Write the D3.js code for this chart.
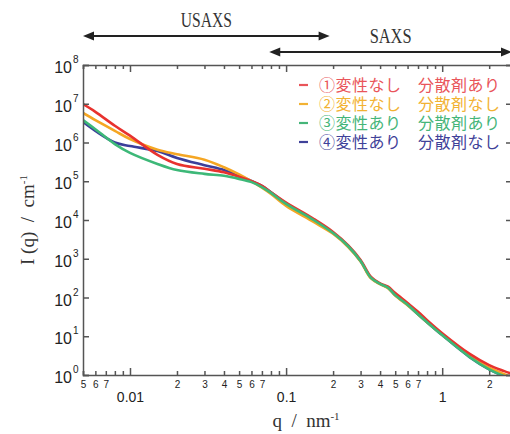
<!DOCTYPE html>
<meta charset="utf-8">
<style>
body { margin: 0; background: #fff; }
svg { display: block; }
.axis path, .axis line { stroke: #555; stroke-width: 1.5px; }
.axis text { font-family: "Liberation Sans", Arial, sans-serif; fill: #222; }
.serif { font-family: "Liberation Serif", "Times New Roman", serif; fill: #333; }
.legend text { font-family: "Noto Sans CJK JP", sans-serif; font-size: 16px; letter-spacing: 0.5px; }
</style>
<body>
<script src="https://d3js.org/d3.v7.min.js"></script>
<script>

// q (nm^-1) sample points and I(q) (cm^-1)
var qValues = [0.005, 0.006, 0.008, 0.01, 0.015, 0.02, 0.03, 0.04, 0.05, 0.06, 0.07, 0.08,
  0.1, 0.15, 0.2, 0.25, 0.3, 0.35, 0.4, 0.45, 0.5, 0.6, 0.7, 0.8, 1.0, 1.5, 2.0, 2.5, 2.8];

var red = [9.8e6, 6.2e6, 2.7e6, 1.5e6, 4.8e5, 2.8e5, 2.1e5, 1.7e5, 1.3e5, 1.0e5, 7.6e4, 5.2e4,
  2.8e4, 1.07e4, 4.9e3, 2.2e3, 930, 340, 230, 190, 130, 72, 43, 26, 12, 3.5, 1.8, 1.26, 1.07];
var orange = [5.8e6, 3.8e6, 2.0e6, 1.23e6, 6.5e5, 5.0e5, 3.6e5, 2.3e5, 1.5e5, 1.0e5, 6.8e4, 4.7e4,
  2.3e4, 8.9e3, 4.4e3, 2.0e3, 850, 310, 220, 175, 112, 63, 37, 23, 11, 3.1, 1.55, 1.05, 0.87];
var green = [3.8e6, 2.2e6, 9.1e5, 5.4e5, 2.8e5, 1.95e5, 1.55e5, 1.38e5, 1.15e5, 9.5e4, 7.1e4, 5.0e4,
  2.6e4, 1.0e4, 4.6e3, 2.1e3, 870, 320, 224, 178, 115, 65, 37, 23, 10.7, 2.9, 1.4, 0.93, 0.79];
var blue = [3.4e6, 2.0e6, 1.0e6, 8.1e5, 6.0e5, 4.0e5, 2.6e5, 1.95e5, 1.4e5, 1.02e5, 7.6e4, 5.2e4,
  2.7e4, 1.0e4, 4.6e3, 2.1e3, 870, 320, 224, 178, 115, 65, 37, 23, 10.7, 2.9, 1.4, 0.93, 0.79];

var seriesNames = ["①変性なし　分散剤あり", "②変性なし　分散剤なし", "③変性あり　分散剤あり", "④変性あり　分散剤なし"];
var seriesValues = [red, orange, green, blue];
var seriesColors = ["#e8322e", "#f5a623", "#3db878", "#3c3f9a"];
var legendColors = ["#e9555a", "#f2b233", "#45b579", "#3f4299"];
var drawOrder = [3, 1, 0, 2];

var yTicks = [1, 10, 100, 1e3, 1e4, 1e5, 1e6, 1e7, 1e8];
var xMajor = [0.01, 0.1, 1];
var xMinor = [0.005, 0.006, 0.007, 0.008, 0.009,
  0.02, 0.03, 0.04, 0.05, 0.06, 0.07, 0.08, 0.09,
  0.2, 0.3, 0.4, 0.5, 0.6, 0.7, 0.8, 0.9, 2];

// q ranges of the two instruments
var usaxsRange = [0.005, 0.19];
var saxsRange = [0.078, 2.8];

var width = 510, height = 434;
var plotL = 83, plotR = 512, plotT = 65, plotB = 375;

var svg = d3.select("body").append("svg")
  .attr("width", width)
  .attr("height", height);

var x = d3.scaleLog().domain([0.005, 2.8]).range([plotL, plotR]);
var y = d3.scaleLog().domain([1, 1e8]).range([plotB, plotT]);

svg.append("clipPath").attr("id", "plot")
  .append("rect")
  .attr("x", plotL).attr("y", plotT)
  .attr("width", plotR - plotL).attr("height", plotB - plotT);

/* ------- CURVES ------- */
var line = d3.line()
  .x(function(d) { return x(d[0]); })
  .y(function(d) { return y(d[1]); })
  .curve(d3.curveCatmullRom.alpha(0.5));

drawOrder.forEach(function(i) {
  var pts = qValues.map(function(q, k) { return [q, seriesValues[i][k]]; });
  svg.append("path")
    .datum(pts)
    .attr("clip-path", "url(#plot)")
    .attr("fill", "none")
    .attr("stroke", seriesColors[i])
    .attr("stroke-width", 2.6)
    .attr("d", line);
});

/* ------- AXES ------- */
function firstDigit(d) { return Math.round(d / Math.pow(10, Math.floor(Math.log10(d) + 1e-9))); }

svg.append("g").attr("class", "axis")
  .attr("transform", "translate(0," + plotB + ")")
  .call(d3.axisBottom(x).tickValues(xMinor).tickSize(-4).tickPadding(6)
    .tickFormat(function(d) {
      var n = firstDigit(d);
      return n <= 7 ? n : "";
    }))
  .call(function(g) { g.selectAll("text").style("font-size", "10px"); });

svg.append("g").attr("class", "axis")
  .attr("transform", "translate(0," + plotB + ")")
  .call(d3.axisBottom(x).tickValues(xMajor).tickSize(-7).tickPadding(17)
    .tickFormat(function(d) { return d; }))
  .call(function(g) { g.select(".domain").remove(); g.selectAll("text").style("font-size", "14px"); });

svg.append("g").attr("class", "axis")
  .attr("transform", "translate(0," + plotT + ")")
  .call(d3.axisTop(x).tickValues(xMinor).tickSize(-4).tickFormat(""));
svg.append("g").attr("class", "axis")
  .attr("transform", "translate(0," + plotT + ")")
  .call(d3.axisTop(x).tickValues(xMajor).tickSize(-7).tickFormat(""))
  .call(function(g) { g.select(".domain").remove(); });

svg.append("g").attr("class", "axis")
  .attr("transform", "translate(" + plotL + ",0)")
  .call(d3.axisLeft(y).tickValues(yTicks).tickSize(-6).tickFormat(""));

svg.append("g").attr("class", "axis")
  .attr("transform", "translate(" + plotR + ",0)")
  .call(d3.axisRight(y).tickValues(yTicks).tickSize(-6).tickFormat(""));

var yLab = svg.append("g").attr("class", "axis").selectAll("g")
  .data(yTicks).enter().append("g")
  .attr("transform", function(d) { return "translate(0," + y(d) + ")"; });
yLab.append("text")
  .attr("x", 72).attr("y", 8)
  .attr("text-anchor", "end")
  .style("font-size", "16px")
  .text("10");
yLab.append("text")
  .attr("x", 73).attr("y", -2)
  .style("font-size", "10px")
  .text(function(d) { return Math.round(Math.log10(d)); });

/* ------- AXIS TITLES ------- */
var xt = svg.append("text").attr("class", "serif")
  .attr("x", 306).attr("y", 427)
  .attr("text-anchor", "middle")
  .style("font-size", "19px")
  .style("white-space", "pre");
xt.append("tspan").text("q  /  nm");
xt.append("tspan").attr("dy", -7).style("font-size", "11px").text("-1");

var yt = svg.append("text").attr("class", "serif")
  .attr("transform", "translate(34,220) rotate(-90)")
  .attr("text-anchor", "middle")
  .style("font-size", "19px")
  .style("white-space", "pre");
yt.append("tspan").text("I (q)  /  cm");
yt.append("tspan").attr("dy", -7).style("font-size", "11px").text("-1");

/* ------- RANGE ARROWS ------- */
function arrow(range, yy, label, labelY, labelLen) {
  var x0 = x(range[0]), x1 = x(range[1]);
  svg.append("line")
    .attr("x1", x0 + 6).attr("x2", x1 - 6)
    .attr("y1", yy).attr("y2", yy)
    .attr("stroke", "#222").attr("stroke-width", 2);
  svg.append("path")
    .attr("d", "M" + x0 + "," + yy + "l11,-4.5v9z")
    .attr("fill", "#222");
  svg.append("path")
    .attr("d", "M" + x1 + "," + yy + "l-11,-4.5v9z")
    .attr("fill", "#222");
  svg.append("text").attr("class", "serif")
    .attr("x", (x0 + x1) / 2 - labelLen / 2).attr("y", labelY)
    .attr("textLength", labelLen)
    .attr("lengthAdjust", "spacingAndGlyphs")
    .style("font-size", "20px")
    .text(label);
}
arrow(usaxsRange, 36, "USAXS", 27, 51);
arrow(saxsRange, 52, "SAXS", 43, 42);

/* ------- LEGEND ------- */
var legend = svg.append("g").attr("class", "legend");
seriesNames.forEach(function(name, i) {
  var ly = 85 + i * 19;
  legend.append("line")
    .attr("x1", 299).attr("x2", 308)
    .attr("y1", ly).attr("y2", ly)
    .attr("stroke", legendColors[i]).attr("stroke-width", 2.2);
  legend.append("text")
    .attr("x", 319).attr("y", ly + 6)
    .attr("fill", legendColors[i])
    .text(name);
});

</script>
</body>
